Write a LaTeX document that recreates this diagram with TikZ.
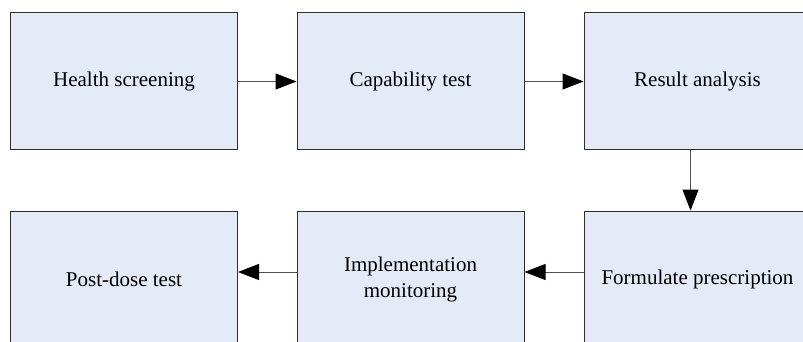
\documentclass[tikz,border=0pt]{standalone}
\usepackage{fontspec}
\setmainfont{Liberation Serif}
\usetikzlibrary{arrows.meta}
\definecolor{boxfill}{HTML}{E4EBF6}
\definecolor{boxline}{HTML}{2E2E2E}
\definecolor{arrline}{HTML}{505050}
\begin{document}
\begin{tikzpicture}[x=1pt,y=-1pt,
  stepbox/.style={draw=boxline,fill=boxfill,line width=1pt,minimum width=227pt,minimum height=137pt,
    inner sep=0pt,align=center,font=\fontsize{21}{26}\selectfont,text=black},
  arr/.style={draw=arrline,line width=1pt,-{Triangle[length=21pt,width=16pt,fill=black,color=black]}}]
\useasboundingbox (0,0) rectangle (803,342);
\clip (0,0) rectangle (803,342);
\node[stepbox] (hs) at (124,81.5) {Health screening};
\node[stepbox] (ct) at (410.5,81.5) {Capability test};
\node[stepbox] (ra) at (697.5,81.5) {Result analysis};
\node[stepbox] (pd) at (124,279.5) {Post-dose test};
\node[stepbox] (im) at (410.5,279.5) {Implementation\\monitoring};
\node[stepbox] (fp) at (697.5,279.5) {Formulate prescription};
\draw[arr] (hs.east) -- (ct.west);
\draw[arr] (ct.east) -- (ra.west);
\draw[arr] ([xshift=-7pt]ra.south) -- ([xshift=-7pt]fp.north);
\draw[arr] ([yshift=7.5pt]fp.west) -- ([yshift=7.5pt]im.east);
\draw[arr] ([yshift=7.5pt]im.west) -- ([yshift=7.5pt]pd.east);
\end{tikzpicture}
\end{document}
